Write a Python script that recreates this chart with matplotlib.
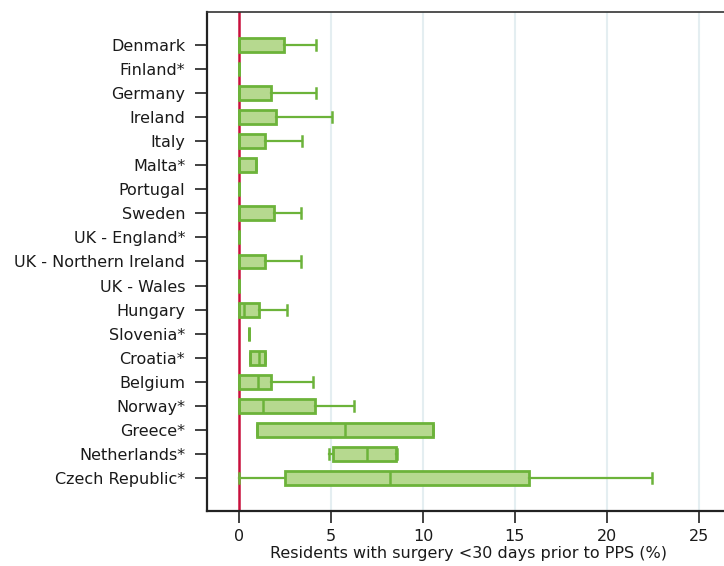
import matplotlib.pyplot as plt

countries = ["Denmark", "Finland*", "Germany", "Ireland", "Italy", "Malta*",
             "Portugal", "Sweden", "UK - England*", "UK - Northern Ireland",
             "UK - Wales", "Hungary", "Slovenia*", "Croatia*", "Belgium",
             "Norway*", "Greece*", "Netherlands*", "Czech Republic*"]

# min, Q1, median, Q3, max (% residents)
whis_lo = [0, 0, 0, 0, 0, 0, 0, 0, 0, 0, 0, 0, 0.53, 0.58, 0, 0, 0.95, 4.90, 0]
q1 = [0, 0, 0, 0, 0, 0, 0, 0, 0, 0, 0, 0, 0.53, 0.58, 0, 0, 0.95, 5.12, 2.49]
median = [0, 0, 0, 0, 0, 0, 0, 0, 0, 0, 0, 0.24, 0.53, 1.05, 1.04, 1.29, 5.75, 6.95, 8.18]
q3 = [2.43, 0, 1.71, 2.0, 1.40, 0.89, 0, 1.91, 0, 1.40, 0, 1.09, 0.53, 1.38, 1.71, 4.10, 10.52, 8.51, 15.76]
whis_hi = [4.19, 0, 4.19, 5.06, 3.43, 0.89, 0, 3.34, 0, 3.34, 0, 2.58, 0.53, 1.38, 4.03, 6.26, 10.52, 8.56, 22.47]

green = "#6cb33a"
fill = "#b6d98f"

stats = []
for i, name in enumerate(countries):
    stats.append(dict(label=name, whislo=whis_lo[i], q1=q1[i], med=median[i],
                      q3=q3[i], whishi=whis_hi[i], fliers=[]))

fig = plt.figure(figsize=(7.24, 5.66), dpi=100)
ax = fig.add_axes([0.2855, 0.0977, 0.75, 0.881])

pos = list(range(len(countries)))
ax.bxp(stats, positions=pos, vert=False, widths=0.58, patch_artist=True,
       showfliers=False, capwidths=0.42,
       boxprops=dict(facecolor=fill, edgecolor=green, linewidth=2.0),
       medianprops=dict(color=green, linewidth=1.8),
       whiskerprops=dict(color=green, linewidth=1.6),
       capprops=dict(color=green, linewidth=1.8), zorder=3)

ax.axvline(0, color="#c8103c", linewidth=1.8, zorder=2)

ax.set_xlim(-1.77, 27.78)
ax.set_ylim(19.36, -1.37)
ax.set_xticks([0, 5, 10, 15, 20, 25])
for x in [5, 10, 15, 20, 25]:
    ax.axvline(x, color="#e4eef1", linewidth=1.5, zorder=1)

ax.set_yticks(pos)
ax.set_yticklabels(countries)
ax.tick_params(axis="both", direction="out", length=8.5, width=1.3,
               color="#333333", labelsize=11.5, labelcolor="#1a1a1a")
ax.tick_params(axis="y", pad=7)
ax.tick_params(axis="x", pad=5)

for side in ["left", "bottom"]:
    ax.spines[side].set_linewidth(1.6)
    ax.spines[side].set_color("#222222")
ax.spines["top"].set_linewidth(1.2)
ax.spines["top"].set_color("#333333")
ax.spines["right"].set_visible(False)

ax.set_xlabel("Residents with surgery <30 days prior to PPS (%)", fontsize=11.5,
              color="#1a1a1a")
ax.xaxis.set_label_coords(0.482, -0.071)

fig.savefig("out.png", dpi=100)
